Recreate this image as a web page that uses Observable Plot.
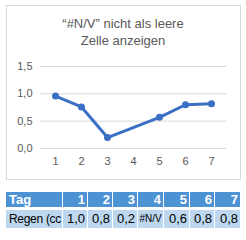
<!DOCTYPE html>
<html><head><meta charset="utf-8">
<script src="https://cdn.jsdelivr.net/npm/d3@7"></script>
<script src="https://cdn.jsdelivr.net/npm/@observablehq/plot@0.6"></script>
<style>
body{margin:0;background:#fff;font-family:"Liberation Sans",Arial,sans-serif;}
#box{position:absolute;left:6px;top:5px;width:233px;height:173px;border:1px solid #d9d9d9;}
#title{position:absolute;left:6px;top:15px;width:234px;text-align:center;font-size:13px;line-height:17px;color:#595959;}
#chart{position:absolute;left:0;top:50px;}
#tbl{position:absolute;left:6px;top:192px;}
.row{display:flex;gap:1px;}
.cell{box-sizing:border-box;overflow:hidden;white-space:nowrap;font-size:13px;padding:0 2px 0 1px;text-align:right;}
.hd .cell{background:#4d93d3;color:#fff;font-weight:bold;height:15px;line-height:15px;}
.dt{margin-top:3px;}
.dt .cell{background:#bdd7ee;color:#000;height:18px;line-height:18px;}
.first{text-align:left !important;padding-left:3px !important;padding-right:0 !important;}
.dt .first{font-size:12px;letter-spacing:-0.3px;}
</style></head>
<body>
<div id="box"></div>
<div id="title">“#N/V” nicht als leere<br>Zelle anzeigen</div>
<div id="chart"></div>
<div id="tbl"></div>
<script>
const days = [1, 2, 3, 4, 5, 6, 7];
const rain = [0.96, 0.76, 0.2, null, 0.57, 0.8, 0.82];
const rainLabels = ["1,0", "0,8", "0,2", "#N/V", "0,6", "0,8", "0,8"];
const yTicks = [0, 0.5, 1, 1.5];
const rowHeader = "Tag";
const rowLabel = "Regen (cc";

const data = days.map((d, i) => ({day: d, v: rain[i]}));
const valid = data.filter(d => d.v != null);
const fmt = d => d.toFixed(1).replace(".", ",");
const blue = "#3a6fc4";

const plot = Plot.plot({
  width: 246, height: 120,
  marginLeft: 40, marginRight: 20, marginTop: 16, marginBottom: 22,
  style: {fontFamily: "Liberation Sans, Arial, sans-serif", fontSize: "11px", color: "#595959", background: "transparent"},
  x: {type: "point", domain: days, padding: 0.5, label: null, tickSize: 0, tickPadding: 9},
  y: {domain: [0, 1.5], ticks: yTicks, tickFormat: fmt, label: null, tickSize: 0, tickPadding: 8},
  marks: [
    Plot.ruleY(yTicks, {stroke: "#d9d9d9", strokeWidth: 1}),
    Plot.axisX({tickSize: 0, tickPadding: 9, fontSize: 11}),
    Plot.axisY({ticks: yTicks, tickFormat: fmt, tickSize: 0, tickPadding: 8, fontSize: 11}),
    Plot.line(valid, {x: "day", y: "v", stroke: blue, strokeWidth: 3}),
    Plot.dot(valid, {x: "day", y: "v", fill: blue, r: 3.5})
  ]
});
document.getElementById("chart").appendChild(plot);

const widths = [56, 24, 24, 24, 25, 25, 24, 25];
const tbl = document.getElementById("tbl");
function mkRow(cls, first, vals) {
  const r = document.createElement("div");
  r.className = "row " + cls;
  [first, ...vals].forEach((t, i) => {
    const c = document.createElement("div");
    c.className = "cell" + (i === 0 ? " first" : "");
    c.style.width = widths[i] + "px";
    if (t === "#N/V") { c.style.fontSize = "10px"; c.style.padding = "0"; c.style.textAlign = "center"; }
    c.textContent = t;
    r.appendChild(c);
  });
  tbl.appendChild(r);
}
mkRow("hd", rowHeader, days.map(String));
mkRow("dt", rowLabel, rainLabels);
</script>
</body></html>
